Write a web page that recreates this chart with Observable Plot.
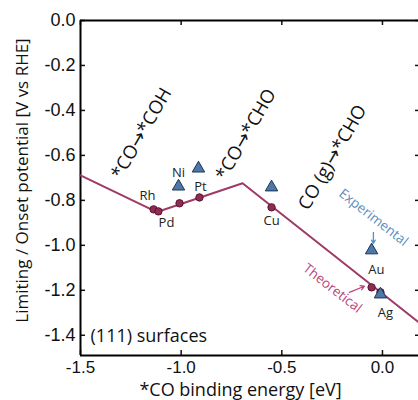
<!DOCTYPE html>
<html><head><meta charset="utf-8">
<script src="https://cdn.jsdelivr.net/npm/d3@7"></script>
<script src="https://cdn.jsdelivr.net/npm/@observablehq/plot@0.6"></script>
<style>body{margin:0;background:#fff}</style>
</head><body><div id="chart"></div>
<script>
// ---- data ----
const xTicks = [-1.5, -1.0, -0.5, 0.0];
const yTicks = [0.0, -0.2, -0.4, -0.6, -0.8, -1.0, -1.2, -1.4];
const xDomain = [-1.5, 0.179];
const yDomain = [-1.49, 0];

// theoretical limiting-potential line
const lineE = [-1.5, -1.12, -0.695, 0.18];
const lineU = [-0.689, -0.852, -0.724, -1.342];

// theoretical points
const theoMetals = ["Rh", "Pd", "Ni", "Pt", "Cu", "Au", "Ag"];
const theoE = [-1.137, -1.113, -1.008, -0.909, -0.551, -0.054, -0.010];
const theoU = [-0.840, -0.849, -0.813, -0.787, -0.831, -1.187, -1.209];

// experimental onset points
const expMetals = ["Ni", "Pt", "Cu", "Au", "Ag"];
const expE = [-1.013, -0.914, -0.551, -0.054, -0.010];
const expU = [-0.738, -0.658, -0.742, -1.022, -1.218];

// metal labels
const labelNames = ["Rh", "Pd", "Ni", "Pt", "Cu", "Au", "Ag"];
const labelE = [-1.167, -1.073, -1.013, -0.904, -0.551, -0.030, 0.015];
const labelU = [-0.778, -0.898, -0.676, -0.742, -0.893, -1.111, -1.298];

// step annotations
const stepTexts = ["*CO\u2192*COH", "*CO\u2192*CHO", "CO (g)\u2192*CHO"];
const stepE = [-1.197, -0.678, -0.248];
const stepU = [-0.502, -0.507, -0.609];

const xTitle = "*CO binding energy [eV]";
const yTitle = "Limiting / Onset potential [V vs RHE]";
const surfaceText = "(111) surfaces";

const fmt = d => d.toFixed(1);
const idx = a => a.map((_, i) => i);
const sans = "'Open Sans', 'DejaVu Sans', sans-serif";

const plot = Plot.plot({
  width: 418, height: 400,
  marginLeft: 80, marginRight: 0, marginTop: 20, marginBottom: 45,
  style: {fontFamily: "'Liberation Sans', Arial, sans-serif", fontSize: "17px", color: "#111", background: "#fff"},
  x: {domain: xDomain},
  y: {domain: yDomain},
  marks: [
    Plot.axisX(xTicks, {anchor: "bottom", tickSize: -5, tickPadding: 10, tickFormat: fmt, label: null, fontSize: 17, strokeWidth: 1.5}),
    Plot.axisX(xTicks, {anchor: "top", tickSize: -4, tickFormat: () => "", label: null, strokeWidth: 1.5}),
    Plot.axisY(yTicks, {anchor: "left", tickSize: -5, tickPadding: 10, tickFormat: fmt, label: null, fontSize: 18, strokeWidth: 1.5}),
    Plot.axisY(yTicks, {anchor: "right", tickSize: -4, tickFormat: () => "", label: null, strokeWidth: 1.5}),
    Plot.ruleX([xDomain[0]], {stroke: "#000", strokeWidth: 2}),
    Plot.ruleY(yDomain, {stroke: "#000", strokeWidth: 2}),
    Plot.line(idx(lineE), {x: i => lineE[i], y: i => lineU[i], stroke: "#9e3a66", strokeWidth: 2}),
    Plot.dot(idx(theoE), {x: i => theoE[i], y: i => theoU[i], r: 3.7, fill: "#8e2c53", stroke: "#5a1232", strokeWidth: 1}),
    Plot.dot(idx(expE), {x: i => expE[i], y: i => expU[i], symbol: "triangle", r: 4.6, fill: "#4e78a8", stroke: "#1d3452", strokeWidth: 1}),
    Plot.text(idx(labelNames), {x: i => labelE[i], y: i => labelU[i], text: i => labelNames[i], fontSize: 13, fontFamily: sans, fill: "#222"}),
    Plot.text(idx(stepTexts), {x: i => stepE[i], y: i => stepU[i], text: i => stepTexts[i], rotate: -60, fontSize: 18.5, fontFamily: sans, fill: "#111"}),
    Plot.text(["Experimental"], {x: -0.0445, y: -0.876, rotate: 38, fontSize: 13.5, fontFamily: sans, fill: "#5a8fc0"}),
    Plot.text(["Theoretical"], {x: -0.248, y: -1.191, rotate: 38, fontSize: 13.5, fontFamily: sans, fill: "#b8467c"}),
    Plot.arrow([0], {x1: -0.045, y1: -0.942, x2: -0.045, y2: -0.991, stroke: "#5a8fc0", strokeWidth: 1.3, headLength: 5}),
    Plot.arrow([0], {x1: -0.164, y1: -1.209, x2: -0.090, y2: -1.182, stroke: "#b8467c", strokeWidth: 1.3, headLength: 5}),
    Plot.text([surfaceText], {x: -1.45, y: -1.404, textAnchor: "start", fontSize: 18, fontFamily: sans, fill: "#111"}),
    Plot.text([xTitle], {frameAnchor: "bottom", lineAnchor: "middle", dx: -9, dy: 35, fontSize: 18, fontFamily: sans, fill: "#111"}),
    Plot.text([yTitle], {frameAnchor: "left", textAnchor: "middle", lineAnchor: "middle", rotate: -90, dx: -58, dy: -7.5, fontSize: 17, fontFamily: sans, fill: "#111"})
  ]
});
document.getElementById("chart").appendChild(plot);
</script>
</body></html>
